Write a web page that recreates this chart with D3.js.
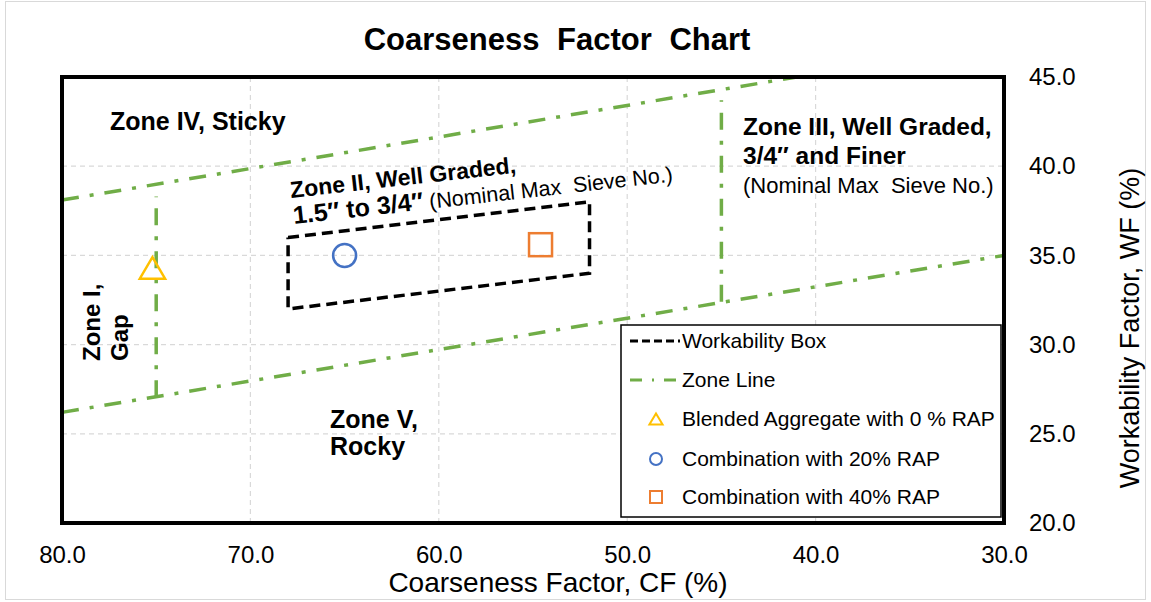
<!DOCTYPE html>
<html>
<head>
<meta charset="utf-8">
<script src="https://cdn.jsdelivr.net/npm/d3@7"></script>
<style>
  body { margin: 0; background: #fff; }
  svg { font-family: "Liberation Sans", Arial, sans-serif; }
  text { white-space: pre; }
</style>
</head>
<body>
<svg id="chart" width="1151" height="602"></svg>
<script>
// data
const xTicks = [80, 70, 60, 50, 40, 30]
const yTicks = [20, 25, 30, 35, 40, 45]

// zone lines (CF, WF)
const upperLineCF = [80, 41]
const upperLineWF = [38.1, 45]
const lowerLineCF = [80, 30]
const lowerLineWF = [26.2, 35]
const zoneOneCF = [75, 75]
const zoneOneWF = [27.05, 38.3]
const zoneThreeCF = [45, 45]
const zoneThreeWF = [32.4, 43.7]

// workability box
const boxCF = [68, 52, 52, 68, 68]
const boxWF = [36, 38, 34, 32, 36]

// mixes
const mixNames = ["Blended Aggregate with 0 % RAP", "Combination with 20% RAP", "Combination with 40% RAP"]
const mixCF = [75.2, 65.0, 54.6]
const mixWF = [34.3, 35.0, 35.6]
const mixColors = ["#FFC000", "#4472C4", "#ED7D31"]
const mixShapes = ["triangle", "circle", "square"]

const green = "#70AD47"

let svg = d3.select("#chart")
let pLeft = 62, pRight = 1004, pTop = 77, pBottom = 523

let x = d3.scaleLinear().domain([80, 30]).range([pLeft, pRight])
let y = d3.scaleLinear().domain([20, 45]).range([pBottom, pTop])

// outer chart border
svg.append("rect")
    .attr("x", 5.5).attr("y", 1.5)
    .attr("width", 1140).attr("height", 598)
    .attr("fill", "none")
    .attr("stroke", "#d9d9d9")

// title
svg.append("text")
    .attr("x", 557).attr("y", 50)
    .attr("text-anchor", "middle")
    .attr("font-size", 31)
    .attr("font-weight", "bold")
    .attr("word-spacing", 9)
    .text("Coarseness Factor Chart")

// gridlines
svg.append("g")
    .selectAll("line")
    .data(xTicks.filter(d => d != 80 && d != 30))
    .join("line")
    .attr("x1", d => x(d)).attr("x2", d => x(d))
    .attr("y1", pTop).attr("y2", pBottom)
    .attr("stroke", "#d9d9d9")
    .attr("stroke-dasharray", "5,4")
    .attr("stroke-width", 1.2)

svg.append("g")
    .selectAll("line")
    .data(yTicks.filter(d => d != 20 && d != 45))
    .join("line")
    .attr("x1", pLeft).attr("x2", pRight)
    .attr("y1", d => y(d)).attr("y2", d => y(d))
    .attr("stroke", "#d9d9d9")
    .attr("stroke-dasharray", "5,4")
    .attr("stroke-width", 1.2)

// axes (tick labels only)
let xAxis = svg.append("g")
    .attr("transform", `translate(0,${pBottom + 40})`)
    .call(d3.axisBottom(x).tickValues(xTicks).tickFormat(d3.format(".1f")).tickSize(0).tickPadding(0))
xAxis.select(".domain").remove()
xAxis.selectAll("text")
    .attr("font-size", 24)
    .attr("font-family", "Liberation Sans, Arial, sans-serif")
    .attr("fill", "#000")
    .attr("dy", 0)

let yAxis = svg.append("g")
    .attr("transform", `translate(${pRight + 25},0)`)
    .call(d3.axisRight(y).tickValues(yTicks).tickFormat(d3.format(".1f")).tickSize(0).tickPadding(0))
yAxis.select(".domain").remove()
yAxis.selectAll("text")
    .attr("font-size", 24)
    .attr("font-family", "Liberation Sans, Arial, sans-serif")
    .attr("fill", "#000")

// axis titles
svg.append("text")
    .attr("x", 558).attr("y", 592)
    .attr("text-anchor", "middle")
    .attr("font-size", 28)
    .text("Coarseness Factor, CF (%)")

svg.append("text")
    .attr("transform", "translate(1139,328) rotate(-90)")
    .attr("text-anchor", "middle")
    .attr("font-size", 27)
    .text("Workability Factor, WF (%)")

// zone lines
let line = d3.line().x(d => x(d[0])).y(d => y(d[1]))
let zoneLines = [
    [upperLineCF, upperLineWF],
    [lowerLineCF, lowerLineWF],
    [zoneOneCF, zoneOneWF],
    [zoneThreeCF, zoneThreeWF]
]
let plot = svg.append("g")
zoneLines.forEach(z => {
    plot.append("path")
        .attr("d", line(d3.zip(z[0], z[1])))
        .attr("fill", "none")
        .attr("stroke", green)
        .attr("stroke-width", 3.5)
        .attr("stroke-dasharray", "17,11,4,11")
})

// workability box
plot.append("path")
    .attr("d", line(d3.zip(boxCF, boxWF)))
    .attr("fill", "none")
    .attr("stroke", "#000")
    .attr("stroke-width", 3.5)
    .attr("stroke-dasharray", "11,6")

// markers
function drawMarker(g, shape, cx, cy, size, color, sw) {
    if (shape == "circle") {
        g.append("circle").attr("cx", cx).attr("cy", cy).attr("r", size / 2)
            .attr("fill", "none").attr("stroke", color).attr("stroke-width", sw)
    } else if (shape == "square") {
        g.append("rect").attr("x", cx - size / 2).attr("y", cy - size / 2)
            .attr("width", size).attr("height", size)
            .attr("fill", "none").attr("stroke", color).attr("stroke-width", sw)
    } else {
        size = size * 1.1
        let h = size * 0.85
        g.append("path")
            .attr("d", `M${cx} ${cy - h / 2} L${cx + size / 2} ${cy + h / 2} L${cx - size / 2} ${cy + h / 2} Z`)
            .attr("fill", "none").attr("stroke", color).attr("stroke-width", sw)
            .attr("stroke-linejoin", "miter")
    }
}
for (let i = 0; i < mixNames.length; i++) {
    drawMarker(plot, mixShapes[i], x(mixCF[i]), y(mixWF[i]), 23, mixColors[i], 2.5)
}

// zone labels
function label(px, py, str, size, weight, rot) {
    let t = svg.append("text")
        .attr("transform", `translate(${px},${py}) rotate(${rot || 0})`)
        .attr("font-size", size)
        .attr("font-weight", weight)
        .text(str)
    return t
}
label(110, 130, "Zone IV, Sticky", 25, "bold")
label(291, 198, "Zone II, Well Graded,", 23, "bold", -6.4)
let z2 = label(294, 224, "1.5″ to 3/4″", 25, "bold", -6.4)
z2.append("tspan").attr("font-weight", "normal").attr("font-size", 21.5).text(" (Nominal Max  Sieve No.)")
label(743, 135, "Zone III, Well Graded,", 24.5, "bold")
label(743, 164, "3/4″ and Finer", 24.5, "bold")
label(743, 193, "(Nominal Max  Sieve No.)", 22, "normal")
label(100, 361, "Zone I,", 24, "bold", -90)
label(128, 361, "Gap", 24, "bold", -90)
label(330, 428, "Zone V,", 25, "bold")
label(330, 455, "Rocky", 25, "bold")

// plot frame
svg.append("rect")
    .attr("x", pLeft).attr("y", pTop)
    .attr("width", pRight - pLeft).attr("height", pBottom - pTop)
    .attr("fill", "none")
    .attr("stroke", "#000")
    .attr("stroke-width", 4)

// legend
let legend = svg.append("g")
legend.append("rect")
    .attr("x", 621).attr("y", 325)
    .attr("width", 380).attr("height", 192)
    .attr("fill", "#fff")
    .attr("stroke", "#000")
    .attr("stroke-width", 1.5)

let legendY = [341, 380, 419, 459, 497]
legend.append("line")
    .attr("x1", 630).attr("x2", 680).attr("y1", legendY[0]).attr("y2", legendY[0])
    .attr("stroke", "#000").attr("stroke-width", 3).attr("stroke-dasharray", "8,4")
legend.append("line")
    .attr("x1", 630).attr("x2", 680).attr("y1", legendY[1]).attr("y2", legendY[1])
    .attr("stroke", green).attr("stroke-width", 3).attr("stroke-dasharray", "12,10,2,10")

let legendNames = ["Workability Box", "Zone Line"].concat(mixNames)
legendNames.forEach((n, i) => {
    legend.append("text")
        .attr("x", 682).attr("y", legendY[i] + 7)
        .attr("font-size", 21)
        .text(n)
})
for (let i = 0; i < mixNames.length; i++) {
    drawMarker(legend, mixShapes[i], 656, legendY[i + 2], 12, mixColors[i], 2)
}
</script>
</body>
</html>
